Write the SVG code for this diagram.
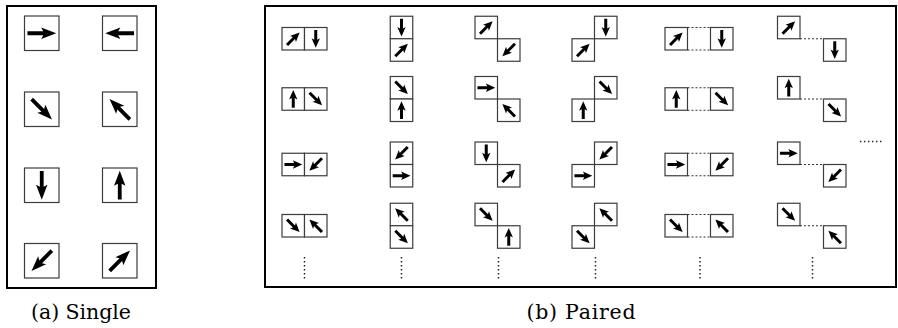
<svg xmlns="http://www.w3.org/2000/svg" xmlns:xlink="http://www.w3.org/1999/xlink" width="898" height="328" viewBox="0 0 898 328">
<style>
.frame{fill:none;stroke:#000;stroke-width:2}
.c{fill:#fff;stroke:#3c3c3c;stroke-width:1.2}
.dash{fill:none;stroke:#333;stroke-width:1.1;stroke-dasharray:2 2}
.dots{fill:none;stroke:#222;stroke-width:1.5;stroke-dasharray:1.4 2.6}
.cap{font-family:'DejaVu Serif',serif;font-size:20.5px;fill:#000}
</style>
<defs>
<path id="a" d="M-14.3,-1.9 H1.5 L-0.6,-5.7 L14.5,0 L-0.6,5.7 L1.5,1.9 H-14.3 Z" fill="#000"/>
<path id="s" d="M-8.8,-1.5 H1 L-0.4,-4.2 L9,0 L-0.4,4.2 L1,1.5 H-8.8 Z" fill="#000"/>
<rect id="big" x="-17.25" y="-17.25" width="34.5" height="34.5" class="c"/>
<rect id="sm" x="0" y="0" width="22.5" height="22.5" class="c"/>
</defs>
<rect width="898" height="328" fill="#fff"/>

<!-- (a) Single -->
<rect class="frame" x="7" y="6" width="149" height="282"/>
<g id="single">
<g id="s-right" transform="translate(41.75,33.25)"><use href="#big"/><use href="#a"/></g>
<g id="s-left" transform="translate(119.75,33.25)"><use href="#big"/><use href="#a" transform="rotate(180)"/></g>
<g id="s-downright" transform="translate(41.75,109.25)"><use href="#big"/><use href="#a" transform="rotate(45)"/></g>
<g id="s-upleft" transform="translate(119.75,109.25)"><use href="#big"/><use href="#a" transform="rotate(225)"/></g>
<g id="s-down" transform="translate(41.75,185.25)"><use href="#big"/><use href="#a" transform="rotate(90)"/></g>
<g id="s-up" transform="translate(119.75,185.25)"><use href="#big"/><use href="#a" transform="rotate(270)"/></g>
<g id="s-downleft" transform="translate(41.75,260.75)"><use href="#big"/><use href="#a" transform="rotate(135)"/></g>
<g id="s-upright" transform="translate(119.75,260.75)"><use href="#big"/><use href="#a" transform="rotate(315)"/></g>
</g>
<text class="cap" x="81" y="318.5" text-anchor="middle" textLength="100" lengthAdjust="spacing">(a) Single</text>

<!-- (b) Paired -->
<rect class="frame" x="265" y="6" width="631" height="281"/>

<g id="connectors">
<line class="dash" x1="687.5" y1="27.5" x2="710.5" y2="27.5"/><line class="dash" x1="687.5" y1="50" x2="710.5" y2="50"/>
<line class="dash" x1="687.5" y1="87.75" x2="710.5" y2="87.75"/><line class="dash" x1="687.5" y1="110.25" x2="710.5" y2="110.25"/>
<line class="dash" x1="687.5" y1="153.25" x2="710.5" y2="153.25"/><line class="dash" x1="687.5" y1="175.75" x2="710.5" y2="175.75"/>
<line class="dash" x1="687.5" y1="214.5" x2="710.5" y2="214.5"/><line class="dash" x1="687.5" y1="237" x2="710.5" y2="237"/>
<line class="dash" x1="800" y1="38.75" x2="823.5" y2="38.75"/>
<line class="dash" x1="800" y1="99" x2="823.5" y2="99"/>
<line class="dash" x1="800" y1="164.5" x2="823.5" y2="164.5"/>
<line class="dash" x1="800" y1="225.75" x2="823.5" y2="225.75"/>
</g>

<!-- column 1: side by side -->
<g id="h1" transform="translate(304.5,38.75)"><use href="#sm" x="-22.5" y="-11.25"/><use href="#sm" x="0" y="-11.25"/><use href="#s" transform="translate(-11.25,0) rotate(315)"/><use href="#s" transform="translate(11.25,0) rotate(90)"/></g>
<g id="h2" transform="translate(304.5,99)"><use href="#sm" x="-22.5" y="-11.25"/><use href="#sm" x="0" y="-11.25"/><use href="#s" transform="translate(-11.25,0) rotate(270)"/><use href="#s" transform="translate(11.25,0) rotate(45)"/></g>
<g id="h3" transform="translate(304.5,164.5)"><use href="#sm" x="-22.5" y="-11.25"/><use href="#sm" x="0" y="-11.25"/><use href="#s" transform="translate(-11.25,0) rotate(0)"/><use href="#s" transform="translate(11.25,0) rotate(135)"/></g>
<g id="h4" transform="translate(304.5,225.75)"><use href="#sm" x="-22.5" y="-11.25"/><use href="#sm" x="0" y="-11.25"/><use href="#s" transform="translate(-11.25,0) rotate(45)"/><use href="#s" transform="translate(11.25,0) rotate(225)"/></g>

<!-- column 2: stacked -->
<g id="v1" transform="translate(401.5,38.75)"><use href="#sm" x="-11.25" y="-22.5"/><use href="#sm" x="-11.25" y="0"/><use href="#s" transform="translate(0,-11.25) rotate(90)"/><use href="#s" transform="translate(0,11.25) rotate(315)"/></g>
<g id="v2" transform="translate(401.5,99)"><use href="#sm" x="-11.25" y="-22.5"/><use href="#sm" x="-11.25" y="0"/><use href="#s" transform="translate(0,-11.25) rotate(45)"/><use href="#s" transform="translate(0,11.25) rotate(270)"/></g>
<g id="v3" transform="translate(401.5,164.5)"><use href="#sm" x="-11.25" y="-22.5"/><use href="#sm" x="-11.25" y="0"/><use href="#s" transform="translate(0,-11.25) rotate(135)"/><use href="#s" transform="translate(0,11.25) rotate(0)"/></g>
<g id="v4" transform="translate(401.5,225.75)"><use href="#sm" x="-11.25" y="-22.5"/><use href="#sm" x="-11.25" y="0"/><use href="#s" transform="translate(0,-11.25) rotate(225)"/><use href="#s" transform="translate(0,11.25) rotate(45)"/></g>

<!-- column 3: diagonal down -->
<g id="d1" transform="translate(497.5,38.75)"><use href="#sm" x="-22.5" y="-22.5"/><use href="#sm" x="0" y="0"/><use href="#s" transform="translate(-11.25,-11.25) rotate(315)"/><use href="#s" transform="translate(11.25,11.25) rotate(135)"/></g>
<g id="d2" transform="translate(497.5,99)"><use href="#sm" x="-22.5" y="-22.5"/><use href="#sm" x="0" y="0"/><use href="#s" transform="translate(-11.25,-11.25) rotate(0)"/><use href="#s" transform="translate(11.25,11.25) rotate(225)"/></g>
<g id="d3" transform="translate(497.5,164.5)"><use href="#sm" x="-22.5" y="-22.5"/><use href="#sm" x="0" y="0"/><use href="#s" transform="translate(-11.25,-11.25) rotate(90)"/><use href="#s" transform="translate(11.25,11.25) rotate(315)"/></g>
<g id="d4" transform="translate(497.5,225.75)"><use href="#sm" x="-22.5" y="-22.5"/><use href="#sm" x="0" y="0"/><use href="#s" transform="translate(-11.25,-11.25) rotate(45)"/><use href="#s" transform="translate(11.25,11.25) rotate(270)"/></g>

<!-- column 4: diagonal up -->
<g id="u1" transform="translate(594.5,38.75)"><use href="#sm" x="0" y="-22.5"/><use href="#sm" x="-22.5" y="0"/><use href="#s" transform="translate(11.25,-11.25) rotate(90)"/><use href="#s" transform="translate(-11.25,11.25) rotate(315)"/></g>
<g id="u2" transform="translate(594.5,99)"><use href="#sm" x="0" y="-22.5"/><use href="#sm" x="-22.5" y="0"/><use href="#s" transform="translate(11.25,-11.25) rotate(45)"/><use href="#s" transform="translate(-11.25,11.25) rotate(270)"/></g>
<g id="u3" transform="translate(594.5,164.5)"><use href="#sm" x="0" y="-22.5"/><use href="#sm" x="-22.5" y="0"/><use href="#s" transform="translate(11.25,-11.25) rotate(135)"/><use href="#s" transform="translate(-11.25,11.25) rotate(0)"/></g>
<g id="u4" transform="translate(594.5,225.75)"><use href="#sm" x="0" y="-22.5"/><use href="#sm" x="-22.5" y="0"/><use href="#s" transform="translate(11.25,-11.25) rotate(225)"/><use href="#s" transform="translate(-11.25,11.25) rotate(45)"/></g>

<!-- column 5: side by side with gap -->
<g id="g1" transform="translate(699,38.75)"><use href="#sm" x="-34" y="-11.25"/><use href="#sm" x="11.5" y="-11.25"/><use href="#s" transform="translate(-22.75,0) rotate(315)"/><use href="#s" transform="translate(22.75,0) rotate(90)"/></g>
<g id="g2" transform="translate(699,99)"><use href="#sm" x="-34" y="-11.25"/><use href="#sm" x="11.5" y="-11.25"/><use href="#s" transform="translate(-22.75,0) rotate(270)"/><use href="#s" transform="translate(22.75,0) rotate(45)"/></g>
<g id="g3" transform="translate(699,164.5)"><use href="#sm" x="-34" y="-11.25"/><use href="#sm" x="11.5" y="-11.25"/><use href="#s" transform="translate(-22.75,0) rotate(0)"/><use href="#s" transform="translate(22.75,0) rotate(135)"/></g>
<g id="g4" transform="translate(699,225.75)"><use href="#sm" x="-34" y="-11.25"/><use href="#sm" x="11.5" y="-11.25"/><use href="#s" transform="translate(-22.75,0) rotate(45)"/><use href="#s" transform="translate(22.75,0) rotate(225)"/></g>

<!-- column 6: diagonal with gap -->
<g id="k1" transform="translate(811.75,38.75)"><use href="#sm" x="-34.25" y="-22.5"/><use href="#sm" x="11.75" y="0"/><use href="#s" transform="translate(-23,-11.25) rotate(315)"/><use href="#s" transform="translate(23,11.25) rotate(90)"/></g>
<g id="k2" transform="translate(811.75,99)"><use href="#sm" x="-34.25" y="-22.5"/><use href="#sm" x="11.75" y="0"/><use href="#s" transform="translate(-23,-11.25) rotate(270)"/><use href="#s" transform="translate(23,11.25) rotate(45)"/></g>
<g id="k3" transform="translate(811.75,164.5)"><use href="#sm" x="-34.25" y="-22.5"/><use href="#sm" x="11.75" y="0"/><use href="#s" transform="translate(-23,-11.25) rotate(0)"/><use href="#s" transform="translate(23,11.25) rotate(135)"/></g>
<g id="k4" transform="translate(811.75,225.75)"><use href="#sm" x="-34.25" y="-22.5"/><use href="#sm" x="11.75" y="0"/><use href="#s" transform="translate(-23,-11.25) rotate(45)"/><use href="#s" transform="translate(23,11.25) rotate(225)"/></g>

<g id="ellipses">
<line class="dots" x1="304.5" y1="257" x2="304.5" y2="279"/>
<line class="dots" x1="401.5" y1="257" x2="401.5" y2="279"/>
<line class="dots" x1="498.5" y1="257" x2="498.5" y2="279"/>
<line class="dots" x1="595.5" y1="257" x2="595.5" y2="279"/>
<line class="dots" x1="700" y1="257" x2="700" y2="279"/>
<line class="dots" x1="812.5" y1="257" x2="812.5" y2="279"/>
<line class="dots" x1="860" y1="141.5" x2="883" y2="141.5"/>
</g>
<text class="cap" x="581" y="318.5" text-anchor="middle" textLength="109" lengthAdjust="spacing">(b) Paired</text>
</svg>
